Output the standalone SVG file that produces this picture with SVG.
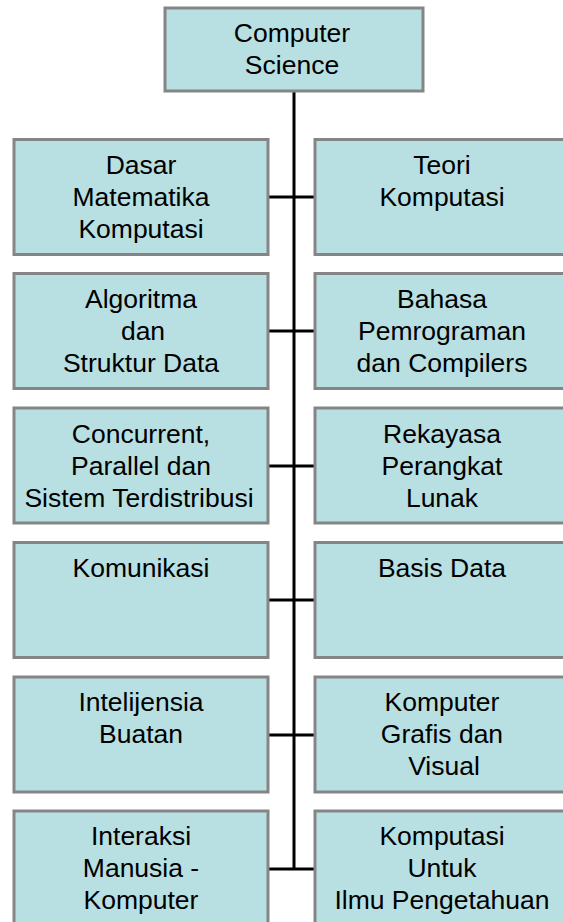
<svg xmlns="http://www.w3.org/2000/svg" width="563" height="922" viewBox="0 0 563 922">
<style>
.box{fill:#b8dfe2;stroke:#858585;stroke-width:3}
.t{font-family:"Liberation Sans",Arial,sans-serif;font-size:26.5px;fill:#000;text-anchor:middle}
.c{stroke:#000;stroke-width:3;fill:none}
</style>
<rect width="563" height="922" fill="#fff"/>
<g id="connectors">
<line class="c" x1="294" y1="91" x2="294" y2="870"/>
<line class="c" x1="268" y1="197" x2="315" y2="197"/>
<line class="c" x1="268" y1="331" x2="315" y2="331"/>
<line class="c" x1="268" y1="466" x2="315" y2="466"/>
<line class="c" x1="268" y1="600" x2="315" y2="600"/>
<line class="c" x1="268" y1="735" x2="315" y2="735"/>
<line class="c" x1="268" y1="869" x2="315" y2="869"/>
</g>
<g id="root"><rect class="box" x="165" y="8" width="258" height="83"/>
<text class="t" x="292" y="42">Computer</text><text class="t" x="292" y="74">Science</text></g>
<g id="n1"><rect class="box" x="14" y="139.5" width="254" height="115"/>
<text class="t" x="141" y="174">Dasar</text><text class="t" x="141" y="206">Matematika</text><text class="t" x="141" y="238">Komputasi</text></g>
<g id="n2"><rect class="box" x="315" y="139.5" width="254" height="115"/>
<text class="t" x="442" y="174">Teori</text><text class="t" x="442" y="206">Komputasi</text></g>
<g id="n3"><rect class="box" x="14" y="273.5" width="254" height="115"/>
<text class="t" x="141" y="308">Algoritma</text><text class="t" x="143" y="340">dan</text><text class="t" x="141" y="372">Struktur Data</text></g>
<g id="n4"><rect class="box" x="315" y="273.5" width="254" height="115"/>
<text class="t" x="442" y="308">Bahasa</text><text class="t" x="442" y="340">Pemrograman</text><text class="t" x="442" y="372">dan Compilers</text></g>
<g id="n5"><rect class="box" x="14" y="408" width="254" height="115"/>
<text class="t" x="141" y="443">Concurrent,</text><text class="t" x="141" y="475">Parallel dan</text><text class="t" x="139" y="507">Sistem Terdistribusi</text></g>
<g id="n6"><rect class="box" x="315" y="408" width="254" height="115"/>
<text class="t" x="442" y="443">Rekayasa</text><text class="t" x="442" y="475">Perangkat</text><text class="t" x="442" y="507">Lunak</text></g>
<g id="n7"><rect class="box" x="14" y="542.5" width="254" height="115"/>
<text class="t" x="141" y="577">Komunikasi</text></g>
<g id="n8"><rect class="box" x="315" y="542.5" width="254" height="115"/>
<text class="t" x="442" y="577">Basis Data</text></g>
<g id="n9"><rect class="box" x="14" y="677" width="254" height="115"/>
<text class="t" x="141" y="711">Intelijensia</text><text class="t" x="141" y="743">Buatan</text></g>
<g id="n10"><rect class="box" x="315" y="677" width="254" height="115"/>
<text class="t" x="442" y="711">Komputer</text><text class="t" x="442" y="743">Grafis dan</text><text class="t" x="444" y="775">Visual</text></g>
<g id="n11"><rect class="box" x="14" y="811" width="254" height="115"/>
<text class="t" x="141" y="845">Interaksi</text><text class="t" x="141" y="877">Manusia -</text><text class="t" x="141" y="909">Komputer</text></g>
<g id="n12"><rect class="box" x="315" y="811" width="254" height="115"/>
<text class="t" x="442" y="845">Komputasi</text><text class="t" x="442" y="877">Untuk</text><text class="t" x="442" y="909">Ilmu Pengetahuan</text></g>
</svg>
